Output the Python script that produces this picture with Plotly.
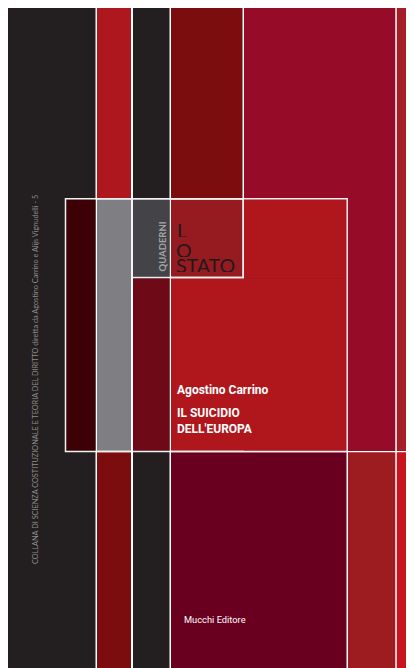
import plotly.graph_objects as go

# Cover panels (left, right, top, bottom, colour) in page pixels
panel_x0 = [7, 97, 133, 171, 244, 396.8,
            97, 171, 348, 396.8,
            66.2, 97, 133, 171, 133, 171, 243.9]
panel_x1 = [95.5, 131, 169.5, 242.5, 395.3, 414,
            131, 346.5, 395.3, 414,
            95.5, 131, 169.5, 242.5, 169.5, 346.5, 346.5]
panel_y0 = [7, 7, 7, 7, 7, 7,
            452.2, 452.2, 452.2, 452.2,
            199.5, 199.5, 199.5, 199.5, 278.2, 278.2, 199.5]
panel_y1 = [668, 198, 668, 198, 451, 451,
            668, 668, 668, 668,
            450.8, 450.8, 276.8, 276.8, 450.8, 450.8, 278.2]
panel_color = ["#231F20", "#AE171D", "#231F20", "#7B0D0E", "#950B28", "#A31E27",
               "#7B0D0E", "#6A0020", "#9D1C20", "#C8141E",
               "#3C0005", "#7F7F83", "#444448", "#951B20", "#6E0A18", "#B0171D", "#B0171D"]

# White frames: big frame and the "Lo Stato" box
frame_x0 = [65.5, 132]
frame_x1 = [347.2, 243.2]
frame_y0 = [198.8, 198.8]
frame_y1 = [451.5, 277.5]

# page body margin of the html page (plot starts 8px in)
OFF = 8

fig = go.Figure()
fig.add_trace(go.Scatter(x=[OFF, 414], y=[OFF, 668], mode="markers",
                         marker=dict(opacity=0), hoverinfo="skip", showlegend=False))

shapes = []
for x0, x1, y0, y1, c in zip(panel_x0, panel_x1, panel_y0, panel_y1, panel_color):
    shapes.append(dict(type="rect", xref="x", yref="y", x0=x0, x1=x1, y0=y0, y1=y1,
                       fillcolor=c, line=dict(width=0), layer="above"))
for x0, x1, y0, y1 in zip(frame_x0, frame_x1, frame_y0, frame_y1):
    shapes.append(dict(type="rect", xref="x", yref="y", x0=x0, x1=x1, y0=y0, y1=y1,
                       fillcolor="rgba(0,0,0,0)", line=dict(color="#F2F2F2", width=1.5),
                       layer="above"))

ann = []
ann.append(dict(text="COLLANA DI SCIENZA COSTITUZIONALE E TEORIA DEL DIRITTO diretta da Agostino Carrino e Alijs Vignudelli - 5",
                x=35, y=380, textangle=-90, showarrow=False,
                font=dict(family="Lato", size=7.3, color="#8E8C8D")))
ann.append(dict(text="<b>QUADERNI</b>", x=161.5, y=247, textangle=-90, showarrow=False,
                font=dict(family="Lato", size=9.5, color="#A4A4A8")))
for t, xx, yy in [("L", 174.5, 230), ("O", 174, 250), ("STATO", 174, 265)]:
    ann.append(dict(text=t, x=xx, y=yy, xanchor="left", yanchor="middle", showarrow=False,
                    height=14, font=dict(family="Lato", size=19.5, color="#1E1A1B")))
for t, yy in [("<b>Agostino Carrino</b>", 390), ("<b>IL SUICIDIO</b>", 413), ("<b>DELL'EUROPA</b>", 429)]:
    ann.append(dict(text=t, x=175, y=yy, xanchor="left", yanchor="middle", showarrow=False,
                    font=dict(family="Roboto", size=12, color="#FFFFFF")))
ann.append(dict(text="Mucchi Editore", x=181.5, y=619, xanchor="left", yanchor="middle",
                showarrow=False, font=dict(family="Roboto", size=9.3, color="#FFFFFF")))

fig.update_layout(
    width=414 - OFF, height=668 - OFF, margin=dict(l=0, r=0, t=0, b=0),
    paper_bgcolor="white", plot_bgcolor="white",
    xaxis=dict(range=[OFF, 414], visible=False, fixedrange=True),
    yaxis=dict(range=[668, OFF], visible=False, fixedrange=True),
    shapes=shapes, annotations=ann, showlegend=False,
)
fig.write_html("out.html", config={"displayModeBar": False})
